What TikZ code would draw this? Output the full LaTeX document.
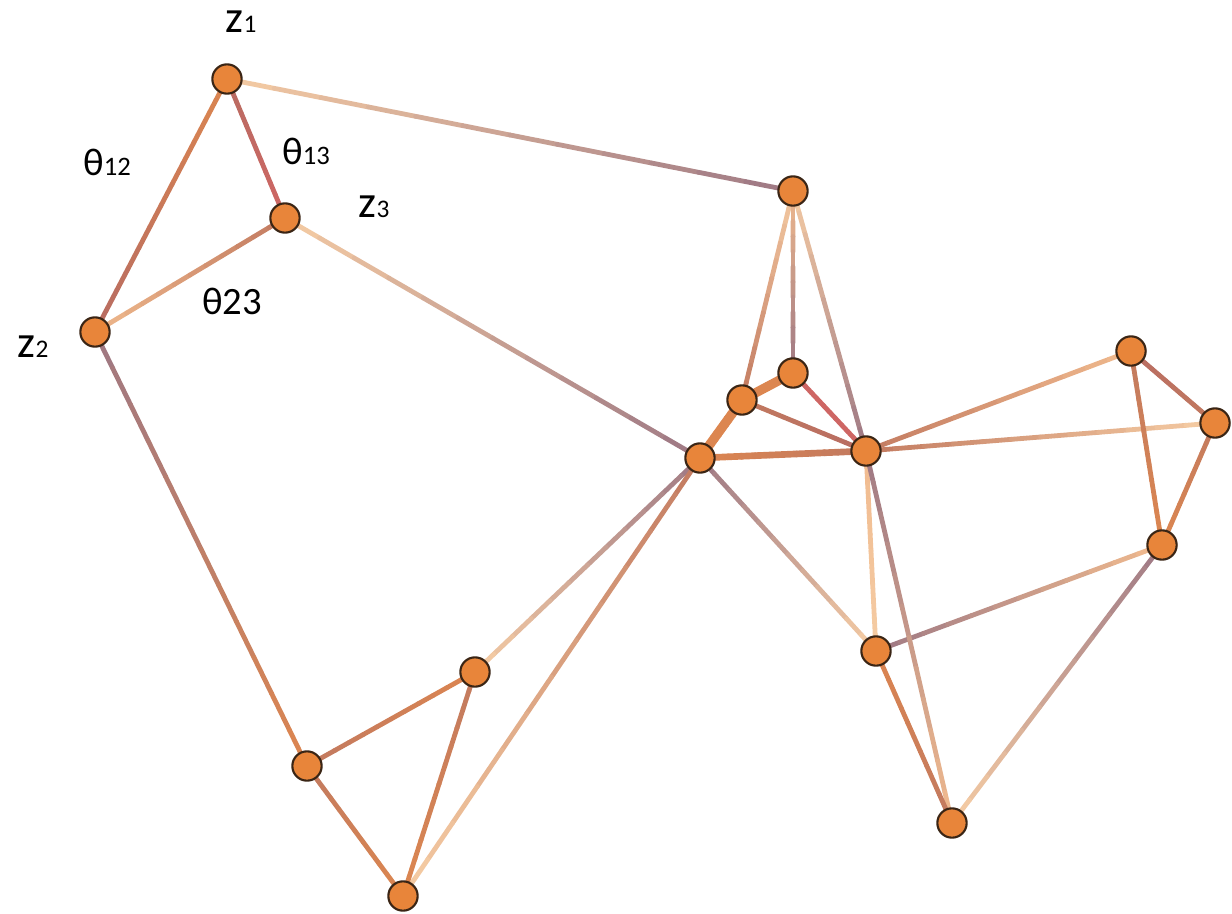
\documentclass[tikz,border=0pt]{standalone}
\usepackage{fontspec}
\setmainfont{Carlito}
\usetikzlibrary{calc,backgrounds}
\definecolor{nodefill}{HTML}{E8853A}
\definecolor{nodeline}{HTML}{3A2515}
\definecolor{peach}{HTML}{F0BA8E}
\definecolor{lpeach}{HTML}{F5CCA4}
\definecolor{orng}{HTML}{DC8650}
\definecolor{brn}{HTML}{C27A60}
\definecolor{mauve}{HTML}{9E7884}
\definecolor{redd}{HTML}{CE6664}
\definecolor{rbrn}{HTML}{B86C62}
\tikzset{
  vtx/.style={circle,fill=nodefill,draw=nodeline,line width=1.6pt,minimum size=22pt,inner sep=0pt},
  lab/.style={inner sep=0pt,text=black}
}
\newcommand\gedge[5][3.6pt]{%
  \foreach \i in {0,...,11}{%
    \pgfmathsetmacro\ta{\i/12}%
    \pgfmathsetmacro\tb{(\i+1)/12}%
    \pgfmathtruncatemacro\pc{100-100*(\i+0.5)/12}%
    \draw[line width=#1,line cap=round,color=#4!\pc!#5] ($(#2)!\ta!(#3)$) -- ($(#2)!\tb!(#3)$);
  }}
\newcommand\zl[1]{{\fontsize{34}{38}\selectfont z}{\fontsize{19}{22}\selectfont #1}}
\newcommand\tl[1]{{\fontsize{29}{32}\selectfont θ}{\fontsize{20}{22}\selectfont #1}}
\begin{document}
\begin{tikzpicture}[x=0.75pt,y=-0.75pt]
\useasboundingbox (0,0) rectangle (1232,914);
% nodes
\node[vtx] (z1) at (227,79) {};
\node[vtx] (z3) at (285,218) {};
\node[vtx] (z2) at (95,332) {};
\node[vtx] (A) at (793,191) {};
\node[vtx] (B) at (793,373) {};
\node[vtx] (C) at (742,400) {};
\node[vtx] (D) at (700,458) {};
\node[vtx] (E) at (866,451) {};
\node[vtx] (F) at (1131,351) {};
\node[vtx] (G) at (1215,423) {};
\node[vtx] (H) at (1162,545) {};
\node[vtx] (I) at (876,651) {};
\node[vtx] (J) at (952,823) {};
\node[vtx] (K) at (475,672) {};
\node[vtx] (L) at (307,766) {};
\node[vtx] (M) at (403,896) {};
% edges
\begin{pgfonlayer}{background}
\gedge{z1}{z2}{orng}{rbrn}
\gedge{z1}{z3}{rbrn}{redd}
\gedge{z2}{z3}{peach}{brn}
\gedge{z1}{A}{lpeach}{mauve}
\gedge{z3}{D}{lpeach}{mauve}
\gedge{z2}{L}{mauve}{orng}
\gedge{A}{C}{lpeach}{brn}
\gedge{A}{B}{peach}{mauve}
\gedge{A}{E}{lpeach}{mauve}
\gedge[7pt]{C}{B}{orng}{orng}
\gedge[7pt]{D}{C}{orng}{orng}
\gedge{B}{E}{redd}{redd}
\gedge{C}{E}{brn}{rbrn}
\gedge[5pt]{D}{E}{orng}{brn}
\gedge{E}{F}{brn}{peach}
\gedge{E}{G}{brn}{lpeach}
\gedge{F}{G}{rbrn}{brn}
\gedge{F}{H}{brn}{orng}
\gedge{G}{H}{brn}{orng}
\gedge{I}{H}{mauve}{peach}
\gedge{H}{J}{mauve}{lpeach}
\gedge{E}{I}{peach}{lpeach}
\gedge{E}{J}{mauve}{peach}
\gedge{D}{I}{mauve}{lpeach}
\gedge{I}{J}{orng}{brn}
\gedge{D}{K}{mauve}{lpeach}
\gedge{D}{M}{brn}{lpeach}
\gedge{K}{L}{orng}{brn}
\gedge{K}{M}{brn}{orng}
\gedge{L}{M}{brn}{orng}
\end{pgfonlayer}
% labels
\node[lab] (lz1) at (241,22) {\zl{1}};
\node[lab] (lz2) at (33,347) {\zl{2}};
\node[lab] (lz3) at (374,207) {\zl{3}};
\node[lab] (lt12) at (107,162) {\tl{12}};
\node[lab] (lt13) at (306,151) {\tl{13}};
\node[lab] (lt23) at (232,301) {{\fontsize{29}{32}\selectfont θ23}};
\end{tikzpicture}
\end{document}
